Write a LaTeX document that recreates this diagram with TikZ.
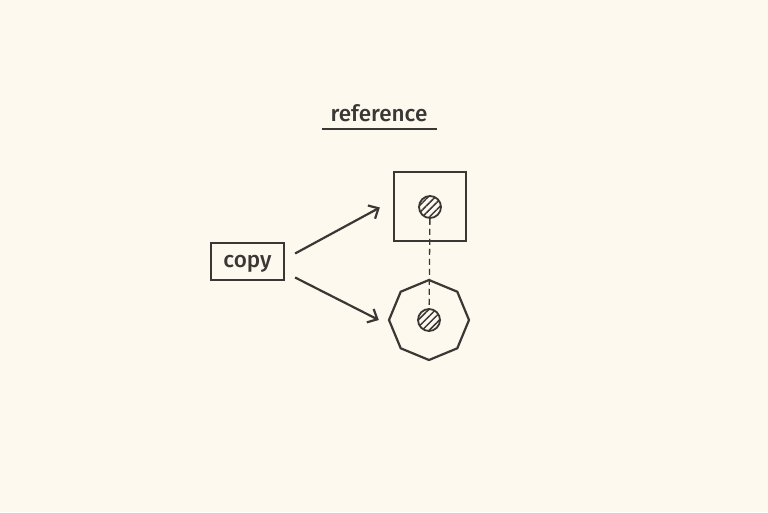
\documentclass[tikz,border=0pt]{standalone}
\usepackage{fontspec}
\setmainfont{Fira Sans}[UprightFont=* Medium]
\usetikzlibrary{arrows.meta,shapes.geometric,patterns.meta}
\definecolor{carta}{HTML}{FEF9EF}
\definecolor{tratto}{HTML}{3A3835}
\begin{document}
\begin{tikzpicture}[x=1pt, y=-1pt, line width=2.2pt, draw=tratto, text=tratto,
    main/.style = {draw, rectangle, inner sep=0pt},
    pin/.style = {draw, circle, line width=1.8pt, minimum size=22pt, inner sep=0pt,
        pattern={Lines[angle=45, distance=5pt, line width=1.5pt]}, pattern color=tratto},
    link/.style = {-{Straight Barb[length=8pt, width=15pt, line width=2.2pt]}, tratto}]
    % Disegna i nodi
    \fill[carta] (0,0) rectangle (768,512);
    \useasboundingbox (0,0) rectangle (768,512);

    \node[font=\fontsize{22.5}{26}\selectfont] (title) at (379,113) {reference};
    \node[main, minimum width=73pt, minimum height=37pt, text height=11pt, text depth=0pt,
        font=\fontsize{22.5}{26}\selectfont] (copy) at (247.5,261.5) {copy};
    \node[main, minimum width=72pt, minimum height=69pt] (ref) at (430,206.5) {};
    \node[draw, regular polygon, regular polygon sides=8, shape border rotate=22.5,
        minimum size=80pt, inner sep=0pt] (oct) at (429,320) {};
    \node[pin] (refpin) at (430,207) {};
    \node[pin] (octpin) at (429,320) {};

    \draw (322,129) -- (437,129);

    \draw[link] ([xshift=10pt, yshift=8pt]copy.east) -- ([xshift=-13pt, yshift=-1pt]ref.west);
    \draw[link] ([xshift=10pt, yshift=-16pt]copy.east) -- ([xshift=-9pt]oct.west);

    \draw[line width=1.3pt, dash pattern=on 6pt off 4pt] (refpin) -- (octpin);

\end{tikzpicture}
\end{document}
